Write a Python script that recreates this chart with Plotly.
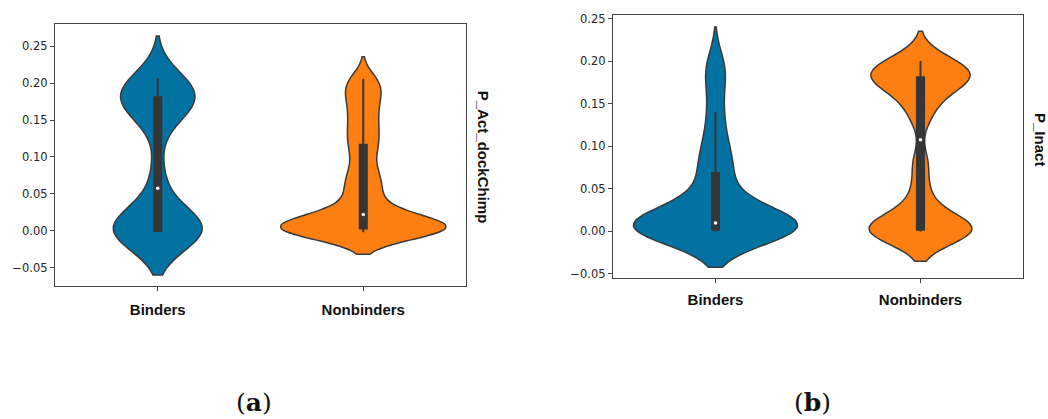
import numpy as np
import plotly.graph_objects as go

# ---------------- data ----------------
categories = ["Binders", "Nonbinders"]

# panel (a): P_Act_dockChimp
a_binders = [-0.002, -0.002, -0.002, -0.002, -0.001, 0.0, 0.002, 0.005, 0.01, 0.035,
             0.08, 0.15, 0.165, 0.175, 0.18, 0.182, 0.185, 0.19, 0.195, 0.206]
a_nonbinders = [-0.002, -0.002, -0.002, -0.002, 0.0, 0.002, 0.004, 0.006, 0.008, 0.01,
                0.015, 0.02, 0.024, 0.04, 0.055, 0.068, 0.085, 0.108, 0.125, 0.142,
                0.16, 0.178, 0.192, 0.206]

# panel (b): P_Inact
b_binders = [0.0, 0.0, 0.0, 0.0, 0.0, 0.001, 0.003, 0.005, 0.006, 0.007,
             0.008, 0.009, 0.011, 0.015, 0.022, 0.03, 0.042, 0.062, 0.075, 0.09,
             0.11, 0.14, 0.175, 0.198]
b_nonbinders = [0.0, 0.0, 0.0, 0.0, 0.001, 0.003, 0.006, 0.02, 0.045, 0.08,
                0.135, 0.155, 0.17, 0.178, 0.18, 0.182, 0.186, 0.19, 0.195, 0.2]

y_ticks = [-0.05, 0.0, 0.05, 0.10, 0.15, 0.20, 0.25]
y_labels = ["P_Act_dockChimp", "P_Inact"]
panel_tags = ["(<b>a</b>)", "(<b>b</b>)"]

# ---------------- styling ----------------
BLUE = "#0272a2"
ORANGE = "#fd7f12"
EDGE = "#3a3a3a"
BOXC = "#363636"

panels = [
    ("x", "y", [("Binders", a_binders, 0.029, 0.43, 0.08, BLUE),
                ("Nonbinders", a_nonbinders, 0.015, 0.80, 0.043, ORANGE)]),
    ("x2", "y2", [("Binders", b_binders, 0.021, 0.80, 0.042, BLUE),
                  ("Nonbinders", b_nonbinders, 0.0175, 0.50, 0.07, ORANGE)]),
]

fig = go.Figure()
for xa, ya, items in panels:
    for cat, vals, bw, w, bxw, col in items:
        fig.add_trace(go.Violin(
            x=[cat] * len(vals), y=vals, xaxis=xa, yaxis=ya,
            bandwidth=bw, spanmode="soft", scalemode="width", width=w,
            fillcolor=col, line=dict(color=EDGE, width=1.5), opacity=1,
            points=False, meanline=dict(visible=False),
            box=dict(visible=True, width=bxw, fillcolor=BOXC,
                     line=dict(color=BOXC, width=2)),
            hoverinfo="skip", showlegend=False,
        ))
        fig.add_trace(go.Scatter(
            x=[cat], y=[float(np.median(vals))], xaxis=xa, yaxis=ya,
            mode="markers", marker=dict(color="white", size=3.5, line=dict(width=0)),
            hoverinfo="skip", showlegend=False,
        ))

axis_common = dict(showline=True, mirror=True, linecolor="#454545", linewidth=1.2,
                   showgrid=False, zeroline=False, ticks="outside", tickcolor="#454545")

W, H = 1048, 419
xdom_a = [55 / W, 466 / W]
ydom_a = [1 - 287 / H, 1 - 21 / H]
xdom_b = [613 / W, 1023 / W]
ydom_b = [1 - 279 / H, 1 - 12 / H]

xfont = dict(family="Liberation Sans, Arial, sans-serif", size=15, color="#111", weight="bold")
yfont = dict(family="DejaVu Sans, sans-serif", size=11.5, color="#262626")

fig.update_layout(
    width=W, height=H, margin=dict(l=0, r=0, t=0, b=0),
    paper_bgcolor="white", plot_bgcolor="white",
    violinmode="overlay",
    xaxis=dict(domain=xdom_a, anchor="y", type="category", categoryorder="array",
               categoryarray=categories, range=[-0.5, 1.5], ticklen=4,
               tickfont=xfont, ticklabelstandoff=6, **axis_common),
    yaxis=dict(domain=ydom_a, anchor="x", range=[-0.0749, 0.2807], tickvals=y_ticks,
               tickformat=".2f", ticklen=4, tickfont=yfont, **axis_common),
    xaxis2=dict(domain=xdom_b, anchor="y2", type="category", categoryorder="array",
                categoryarray=categories, range=[-0.5, 1.5], ticklen=4,
                tickfont=xfont, ticklabelstandoff=4, **axis_common),
    yaxis2=dict(domain=ydom_b, anchor="x2", range=[-0.0547, 0.2543], tickvals=y_ticks,
                tickformat=".2f", ticklen=4, tickfont=yfont, **axis_common),
)

lab_font = dict(family="Liberation Sans, Arial, sans-serif", size=15, color="#111", weight="bold")
fig.add_annotation(x=483 / W, y=1 - 156 / H, xref="paper", yref="paper",
                   text=y_labels[0], textangle=90, showarrow=False, font=lab_font,
                   xanchor="center", yanchor="middle")
fig.add_annotation(x=1041 / W, y=1 - 138 / H, xref="paper", yref="paper",
                   text=y_labels[1], textangle=90, showarrow=False, font=lab_font,
                   xanchor="center", yanchor="middle")

tag_font = dict(family="DejaVu Serif, Liberation Serif, serif", size=25, color="#111")
fig.add_annotation(x=254 / W, y=1 - 405 / H, xref="paper", yref="paper",
                   text=panel_tags[0], showarrow=False, font=tag_font,
                   xanchor="center", yanchor="middle")
fig.add_annotation(x=812 / W, y=1 - 405 / H, xref="paper", yref="paper",
                   text=panel_tags[1], showarrow=False, font=tag_font,
                   xanchor="center", yanchor="middle")

fig.write_html("out.html")
